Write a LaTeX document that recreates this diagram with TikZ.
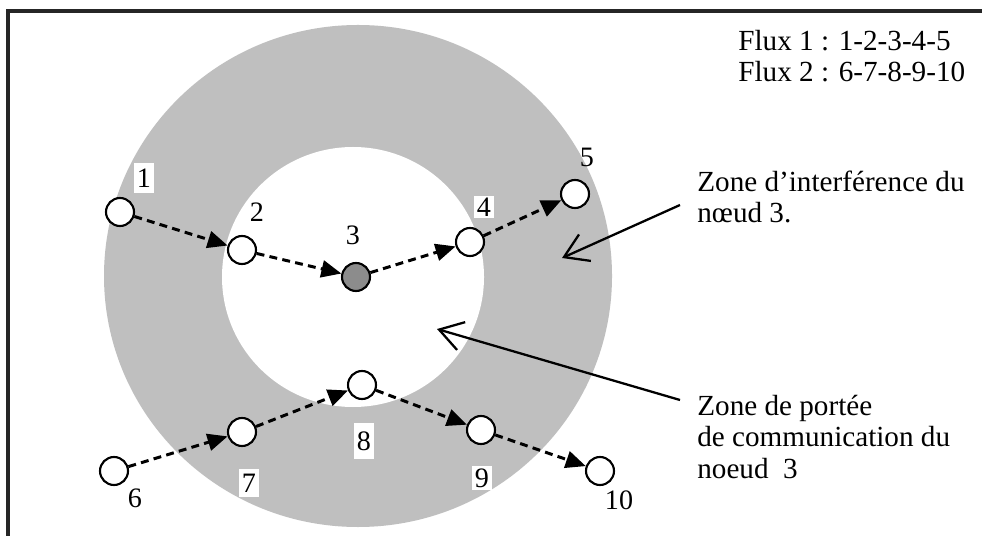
\documentclass[tikz,border=0pt]{standalone}
\usepackage{fontspec}
\setmainfont{Liberation Serif}
\usepackage{xcolor}
\usetikzlibrary{arrows.meta}
\definecolor{ringgray}{RGB}{191,191,191}
\definecolor{hubgray}{RGB}{140,140,140}

\begin{document}
\begin{tikzpicture}[x=0.02cm, y=-0.02cm,
    station/.style={circle, draw, line width=1.2pt, fill=white, minimum size=0.56cm, inner sep=0pt},
    num/.style={inner sep=1pt, font=\fontsize{16}{16}\selectfont},
    numbox/.style={num, fill=white, inner xsep=1.5pt, inner ysep=3pt},
    flow/.style={-{Triangle[length=4mm, width=3.4mm]}, line width=1.7pt, dash pattern=on 4.5pt off 3pt},
    pointer/.style={-{Straight Barb[length=4.6mm, width=5.8mm, line width=1.3pt]}, line width=1.3pt},
    note/.style={align=left, anchor=west, inner sep=0pt, font=\fontsize{16.6}{17.8}\selectfont}
]
\useasboundingbox (0,0) rectangle (982,536);
\fill[white] (0,0) rectangle (982,536);
\draw[line width=1.8pt, black!85] (8,536) -- (8,11) -- (982,11);

\fill[ringgray] (358,276) ellipse [x radius=254, y radius=251];
\fill[white] (353,277) ellipse [x radius=131, y radius=130];

\node[station] (n1) at (120,212) {};
\node[station] (n2) at (242,250) {};
\node[station, fill=hubgray] (n3) at (356,277) {};
\node[station] (n4) at (470,242) {};
\node[station] (n5) at (575,194) {};
\node[station] (n6) at (114,471) {};
\node[station] (n7) at (242,432) {};
\node[station] (n8) at (362,385) {};
\node[station] (n9) at (481,430) {};
\node[station] (n10) at (600,471) {};

\node[numbox] (lab1) at (144,178) {1};
\node[num] (lab2) at (257,212) {2};
\node[num] (lab3) at (353,235) {3};
\node[numbox, inner ysep=1pt] (lab4) at (484,207) {4};
\node[num] (lab5) at (587,157) {5};
\node[num] (lab6) at (135,498) {6};
\node[numbox] (lab7) at (249,483) {7};
\node[numbox, inner ysep=5pt] (lab8) at (364,441) {8};
\node[numbox, inner ysep=1.5pt] (lab9) at (482,478) {9};
\node[num] (lab10) at (619,500) {10};

\draw[flow] (n1) -- (n2);
\draw[flow] (n2) -- (n3);
\draw[flow] (n3) -- (n4);
\draw[flow] (n4) -- (n5);
\draw[flow] (n6) -- (n7);
\draw[flow] (n7) -- (n8);
\draw[flow] (n8) -- (n9);
\draw[flow] (n9) -- (n10);

\node[note] (flux) at (738,56) {Flux 1 : 1-2-3-4-5\\Flux 2 : 6-7-8-9-10};
\node[note] (zi) at (697,197) {Zone d’interférence du\\nœud 3.};
\node[note] (zp) at (697,437) {Zone de portée\\de communication du\\noeud\ \ 3};

\coordinate (zistart) at (680,205);
\coordinate (zitip) at (562,258);
\coordinate (zpstart) at (680,400);
\coordinate (zptip) at (437,329);
\draw[pointer] (zistart) -- (zitip);
\draw[pointer] (zpstart) -- (zptip);
\end{tikzpicture}
\end{document}
